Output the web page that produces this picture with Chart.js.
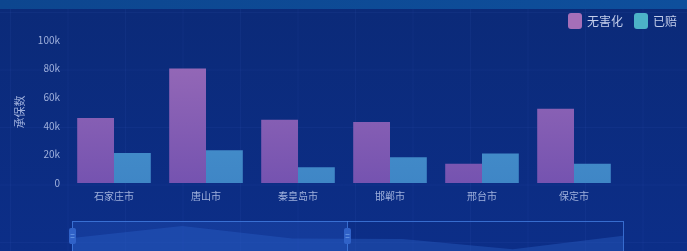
<!DOCTYPE html>
<html><head><meta charset="utf-8">
<script src="https://cdn.jsdelivr.net/npm/chart.js@4"></script>
<style>
html,body{margin:0;padding:0;background:#0a2a7a;}
#wrap{width:687px;height:251px;position:relative;}
</style></head>
<body><div id="wrap"><canvas id="c" width="687" height="251"></canvas></div>
<script>
const categories = ['石家庄市','唐山市','秦皇岛市','邯郸市','邢台市','保定市'];
const harmless = [45400, 80000, 44200, 42600, 13400, 51900];
const compensated = [21000, 22900, 11000, 18000, 20600, 13400];
const seriesNames = ['无害化','已赔'];
const yTicks = [0, 20000, 40000, 60000, 80000, 100000];
const yTitle = '承保数';

const FONT = '"Noto Sans CJK SC", "Noto Sans", sans-serif';
const TXT = '#9fb0dc';

function purpleGrad(ctx){
  const ch = ctx.chart, a = ch.chartArea;
  if(!a) return '#8a60b4';
  const g = ch.ctx.createLinearGradient(0, a.top, 0, a.bottom);
  g.addColorStop(0, '#9a6cb8'); g.addColorStop(1, '#7553b0');
  return g;
}
function cyanGrad(ctx){
  const ch = ctx.chart, a = ch.chartArea;
  if(!a) return '#4690cc';
  const g = ch.ctx.createLinearGradient(0, a.top, 0, a.bottom);
  g.addColorStop(0, '#4a9ad0'); g.addColorStop(1, '#3f86c6');
  return g;
}

const bgPlugin = {
  id:'bg',
  beforeDraw(chart){
    const c = chart.ctx, W = chart.width, H = chart.height;
    c.save();
    const g = c.createLinearGradient(0,0,0,H);
    g.addColorStop(0,'#0b2a78'); g.addColorStop(1,'#0c2e88');
    c.fillStyle = g; c.fillRect(0,0,W,H);
    const t = c.createLinearGradient(0,0,W,0);
    t.addColorStop(0,'#0d468f'); t.addColorStop(1,'#0e4f9c');
    c.fillStyle = t; c.fillRect(0,0,W,9);
    c.strokeStyle = 'rgba(80,130,220,0.07)'; c.lineWidth = 1;
    for(let x=10.5;x<W;x+=57.5){ c.beginPath(); c.moveTo(x,9); c.lineTo(x,H); c.stroke(); }
    for(let y=12.5;y<H;y+=57.5){ c.beginPath(); c.moveTo(0,y); c.lineTo(W,y); c.stroke(); }
    c.restore();
  },
  afterDraw(chart){
    const c = chart.ctx;
    c.save();
    const items = [{t:seriesNames[0], col:'#a56fb8'},{t:seriesNames[1], col:'#4cb3c8'}];
    c.font = '12px ' + FONT; c.textBaseline = 'middle';
    let x = 568; const y = 21;
    items.forEach(it=>{
      c.fillStyle = it.col;
      c.beginPath(); c.roundRect(x, y-8, 14, 16, 3); c.fill();
      c.fillStyle = '#c3cdea'; c.textAlign='left';
      c.fillText(it.t, x+19, y);
      x += 19 + c.measureText(it.t).width + 11;
    });
    c.translate(20, 112); c.rotate(-Math.PI/2);
    c.font = '11px ' + FONT; c.fillStyle = TXT; c.textAlign='center';
    c.fillText(yTitle, 0, 0);
    c.restore();
    // data zoom slider
    c.save();
    const sx0 = 72, sx1 = 623, sy0 = 221, sy1 = 262;
    const max = Math.max(...harmless);
    c.beginPath();
    c.moveTo(sx0, sy1);
    harmless.forEach((v,i)=>{
      const px = sx0 + (sx1-sx0)*i/(harmless.length-1);
      const py = sy1 - 8 - (v/max)*(sy1-sy0-13);
      c.lineTo(px, py);
    });
    c.lineTo(sx1, sy1); c.closePath();
    c.fillStyle = 'rgba(40,90,190,0.45)'; c.fill();
    const hx = 347;
    c.fillStyle = 'rgba(40,90,200,0.30)'; c.fillRect(sx0, sy0, hx-sx0, sy1-sy0);
    c.strokeStyle = 'rgba(70,130,230,0.75)'; c.lineWidth = 1;
    c.strokeRect(sx0+0.5, sy0+0.5, sx1-sx0, sy1-sy0);
    c.beginPath(); c.moveTo(hx+0.5, sy0); c.lineTo(hx+0.5, sy1); c.stroke();
    [sx0, hx].forEach(px=>{
      c.fillStyle = '#3062c8';
      c.beginPath(); c.roundRect(px-3, 228, 7, 16, 2); c.fill();
      c.strokeStyle = 'rgba(120,170,240,0.6)';
      c.beginPath(); c.moveTo(px-1.5,234.5); c.lineTo(px+2.5,234.5); c.moveTo(px-1.5,237.5); c.lineTo(px+2.5,237.5); c.stroke();
    });
    c.restore();
  }
};

new Chart(document.getElementById('c'), {
  type:'bar',
  data:{
    labels: categories,
    datasets:[
      {label:seriesNames[0], data:harmless, backgroundColor:purpleGrad, categoryPercentage:0.8, barPercentage:1},
      {label:seriesNames[1], data:compensated, backgroundColor:cyanGrad, categoryPercentage:0.8, barPercentage:1}
    ]
  },
  plugins:[bgPlugin],
  options:{
    responsive:false, animation:false, devicePixelRatio:1,
    layout:{padding:{top:40, left:0, right:67, bottom:44}},
    plugins:{legend:{display:false}, tooltip:{enabled:false}},
    scales:{
      x:{
        grid:{display:false, drawTicks:false}, border:{display:false},
        ticks:{color:TXT, font:{size:10, family:FONT}, padding:7},
        afterFit(s){ s.height = 24; }
      },
      y:{
        min:0, max:100000,
        afterBuildTicks(s){ s.ticks = yTicks.map(v=>({value:v})); },
        grid:{display:false, drawTicks:false}, border:{display:false},
        ticks:{color:TXT, font:{size:10, family:FONT}, padding:8,
          callback:v=> v===0 ? '0' : (v/1000)+'k'},
        afterFit(s){ s.width = 68; }
      }
    }
  }
});
</script></body></html>
